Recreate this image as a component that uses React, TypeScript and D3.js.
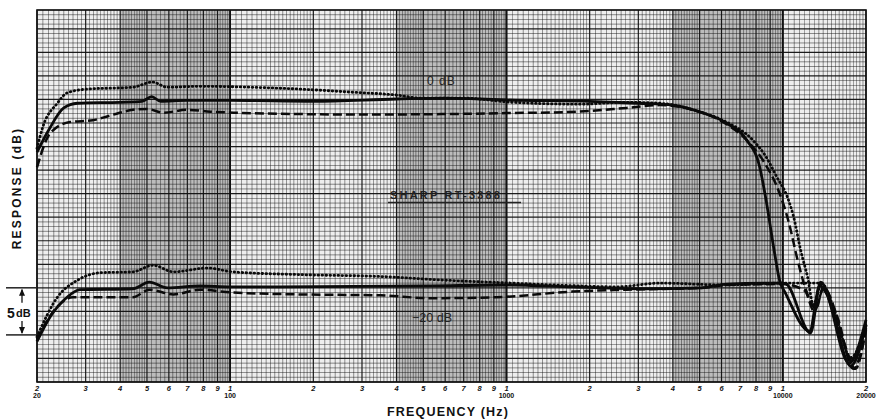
import React from "react";
import * as d3 from "d3";

type Pt = [number, number];

const W = 877;
const H = 420;

const tickDigits = ["2", "3", "4", "5", "6", "7", "8", "9", "1"];
const decadeStarts = [10, 100, 1000, 10000];
const decadeLabelFreqs = [20, 100, 1000, 10000, 20000];
const decadeLabels = ["20", "100", "1000", "10000", "20000"];

const topSolid: Pt[] = [
  [20, -5.6], [22, -3.3], [25, -0.9], [28, -0.4], [40, -0.3], [48, -0.2], [52, 0.3], [56, -0.2],
  [70, -0.1], [100, -0.1], [200, -0.2], [400, 0.05], [600, 0.15], [800, 0.05], [1000, -0.05],
  [2000, -0.2], [3000, -0.4], [4000, -0.6], [5100, -1.4], [6250, -2.5], [7400, -4.3], [8250, -7.2],
  [8700, -10.7], [9300, -16], [9750, -19.3], [10200, -20.5], [12500, -24.6], [13600, -19.8],
  [14400, -20.6], [17600, -28.3], [20000, -24],
];
const topDotted: Pt[] = [
  [20, -5.2], [21, -2.9], [23.7, -0.4], [25.7, 0.7], [30.3, 1.1], [44.5, 1.3], [52.3, 1.85],
  [59.3, 1.3], [78, 1.4], [118, 1.3], [179, 1.1], [266, 0.8], [405, 0.45], [488, 0.15], [694, 0.15],
  [1050, -0.3], [1840, -0.5], [2720, -0.3], [3580, -0.4], [5000, -1.3], [6250, -2.4], [7780, -4.3],
  [8700, -6.1], [9500, -8.2], [10400, -10.4], [10950, -12.5], [11600, -16], [12300, -18.9],
  [12900, -21.8], [13800, -19.5], [15300, -22.2], [17700, -27.6], [19000, -26], [20000, -23.8],
];
const topDashed: Pt[] = [
  [20, -7.2], [22.3, -3.6], [26.3, -2.4], [31.9, -2.2], [36.8, -1.7], [44.5, -1.1], [50, -1.0],
  [57.3, -1.4], [70, -1.1], [85, -1.3], [103, -1.4], [179, -1.55], [300, -1.6], [600, -1.55],
  [1000, -1.45], [1790, -1.3], [2720, -0.9], [3580, -0.6], [4720, -1.1], [6000, -2.3], [7500, -4.5],
  [8700, -7.0], [9600, -9.5], [10500, -13], [11300, -17], [12000, -19.8], [13200, -22.2],
  [14000, -19.9], [15800, -23.2], [18000, -28.6], [20000, -24.5],
];
const bottomSolid: Pt[] = [
  [20, -25.7], [22.3, -23.1], [25.7, -21], [28.6, -20.2], [44.5, -20.1], [51, -19.4], [59.3, -20],
  [78, -19.8], [100, -19.9], [152, -19.9], [530, -19.8], [1000, -19.7], [1730, -19.9], [3100, -20.1],
  [5100, -20.0], [6250, -19.6], [10000, -19.5], [10300, -19.6], [12600, -24.8], [13700, -19.4],
  [17400, -28.0], [20000, -23.4],
];
const bottomDotted: Pt[] = [
  [20, -25.2], [23.7, -21], [28, -19.2], [33.8, -18.4], [44.5, -18.3], [52.6, -17.6], [62.3, -18.3],
  [82.7, -17.9], [102, -18.3], [179, -18.6], [350, -18.8], [610, -19.2], [1050, -19.5], [1840, -19.8],
  [2500, -19.9], [3580, -19.5], [6250, -19.7], [10000, -19.5], [13500, -19.5], [15300, -22.5],
  [17600, -27.4], [20000, -24],
];
const bottomDashed: Pt[] = [
  [20, -25.5], [22.8, -22.6], [27, -21], [44.5, -21], [51, -20.2], [62.3, -20.7], [78, -20.2],
  [102, -20.5], [179, -20.7], [350, -20.8], [530, -21.1], [920, -21], [1730, -20.4], [2720, -20.2],
  [5130, -20.0], [6250, -19.7], [10000, -19.6], [12000, -20.3], [13000, -22.5], [14000, -20.2],
  [16500, -25.5], [18300, -28.6], [20000, -24.3],
];

const FONT = "'Liberation Sans', Arial, sans-serif";

export default function App() {
  const x = d3.scaleLog().domain([20, 20000]).range([37, 866]);
  const y = d3.scaleLinear().domain([-30, 9.5]).range([382, 10]);
  const line = d3
    .line<Pt>()
    .x((d) => x(d[0]))
    .y((d) => y(d[1]))
    .curve(d3.curveMonotoneX);

  const vLines: { f: number; kind: number }[] = [];
  decadeStarts.forEach((b) => {
    const ks: number[] = [];
    for (let k = 100; k < 200; k += 5) ks.push(k);
    for (let k = 200; k < 500; k += 10) ks.push(k);
    for (let k = 500; k <= 1000; k += 20) ks.push(k);
    ks.forEach((k) => {
      const f = (b * k) / 100;
      if (f < 20 - 1e-6 || f > 20000 + 1e-6) return;
      const kind = k === 100 || k === 1000 ? 2 : k % 100 === 0 ? 1 : 0;
      vLines.push({ f, kind });
    });
  });
  const hLines: { v: number; kind: number }[] = [];
  for (let i = -60; i <= 19; i++) {
    const v = i * 0.5;
    hLines.push({ v, kind: i % 5 === 0 ? 1 : 0 });
  }
  const bands: [number, number][] = [
    [40, 100],
    [400, 1000],
    [4000, 10000],
  ];

  const ticks: { f: number; label: string }[] = [];
  decadeStarts.forEach((b) => {
    for (let d = 2; d <= 10; d++) {
      const f = d * b;
      if (f < 20 || f > 20000) continue;
      ticks.push({ f, label: tickDigits[d - 2] });
    }
  });

  const L = 37, R = 866, T = 10, B = 382;
  const y20 = y(-20), y25 = y(-25);

  return (
    <svg
      width={W}
      height={H}
      style={{ position: "absolute", left: 0, top: 0, background: "#fff" }}
    >
      <rect x={L} y={T} width={R - L} height={B - T} fill="#eeeeee" />
      {bands.map(([a, b], i) => (
        <rect key={i} x={x(a)} y={T} width={x(b) - x(a)} height={B - T} fill="#8a8a8a" opacity={0.5} />
      ))}
      {hLines.map((h, i) => (
        <line
          key={"h" + i}
          x1={L}
          x2={R}
          y1={y(h.v)}
          y2={y(h.v)}
          stroke="#111"
          strokeWidth={h.kind ? 1.2 : 0.65}
          opacity={h.kind ? 0.95 : 0.72}
        />
      ))}
      {vLines.map((v, i) => (
        <line
          key={"v" + i}
          x1={x(v.f)}
          x2={x(v.f)}
          y1={T}
          y2={B}
          stroke="#111"
          strokeWidth={v.kind === 2 ? 1.7 : v.kind === 1 ? 1.2 : 0.6}
          opacity={v.kind ? 0.95 : 0.72}
        />
      ))}
      <rect x={L} y={T} width={R - L} height={B - T} fill="none" stroke="#111" strokeWidth={1.6} />

      <g fill="none" stroke="#0a0a0a" strokeLinejoin="round">
        <path d={line(topDashed) || ""} strokeWidth={2.5} strokeDasharray="9 4" />
        <path d={line(bottomDashed) || ""} strokeWidth={2.5} strokeDasharray="9 4" />
        <path d={line(topDotted) || ""} strokeWidth={2.8} strokeDasharray="0.6 3.4" strokeLinecap="round" />
        <path d={line(bottomDotted) || ""} strokeWidth={2.8} strokeDasharray="0.6 3.4" strokeLinecap="round" />
        <path d={line(topSolid) || ""} strokeWidth={2.8} />
        <path d={line(bottomSolid) || ""} strokeWidth={2.8} />
      </g>

      <text x={427} y={85} fontFamily={FONT} fontSize={12} fill="#222" letterSpacing={1}>
        0 dB
      </text>
      <text x={390} y={199} fontFamily={FONT} fontSize={11} fontWeight="bold" fill="#222" letterSpacing={2.2}>
        SHARP RT-3388
      </text>
      <line x1={388} x2={521} y1={202.5} y2={202.5} stroke="#222" strokeWidth={1.3} />
      <text x={412} y={322} fontFamily={FONT} fontSize={12.5} fill="#222">
        −20 dB
      </text>

      <line x1={6} x2={36} y1={y20} y2={y20} stroke="#111" strokeWidth={1.4} />
      <line x1={6} x2={36} y1={y25} y2={y25} stroke="#111" strokeWidth={1.4} />
      <line x1={22} x2={22} y1={y20 + 2} y2={y20 + 15} stroke="#111" strokeWidth={1.3} />
      <line x1={22} x2={22} y1={y25 - 14} y2={y25 - 2} stroke="#111" strokeWidth={1.3} />
      <path d={`M22,${y20 + 1} l-3,7 h6 z`} fill="#111" />
      <path d={`M22,${y25 - 1} l-3,-7 h6 z`} fill="#111" />
      <text x={7} y={318} fontFamily={FONT} fontSize={14} fontWeight="bold" fill="#111">
        5
      </text>
      <text x={16} y={317} fontFamily={FONT} fontSize={11} fontWeight="bold" fill="#111">
        dB
      </text>

      <text
        transform="translate(21,188) rotate(-90)"
        textAnchor="middle"
        fontFamily={FONT}
        fontSize={12}
        fontWeight="bold"
        fill="#111"
        letterSpacing={2.2}
      >
        RESPONSE (dB)
      </text>
      <text
        x={448}
        y={416}
        textAnchor="middle"
        fontFamily={FONT}
        fontSize={12.5}
        fontWeight="bold"
        fill="#111"
        letterSpacing={1.2}
      >
        FREQUENCY (Hz)
      </text>

      {ticks.map((t, i) => (
        <text
          key={"t" + i}
          x={x(t.f)}
          y={391}
          textAnchor="middle"
          fontFamily={FONT}
          fontSize={7.5}
          fontWeight="bold"
          fontStyle="italic"
          fill="#111"
        >
          {t.label}
        </text>
      ))}
      {decadeLabelFreqs.map((f, i) => (
        <text
          key={"d" + i}
          x={x(f)}
          y={398}
          textAnchor="middle"
          fontFamily={FONT}
          fontSize={7}
          fontWeight="bold"
          fill="#111"
        >
          {decadeLabels[i]}
        </text>
      ))}
    </svg>
  );
}
